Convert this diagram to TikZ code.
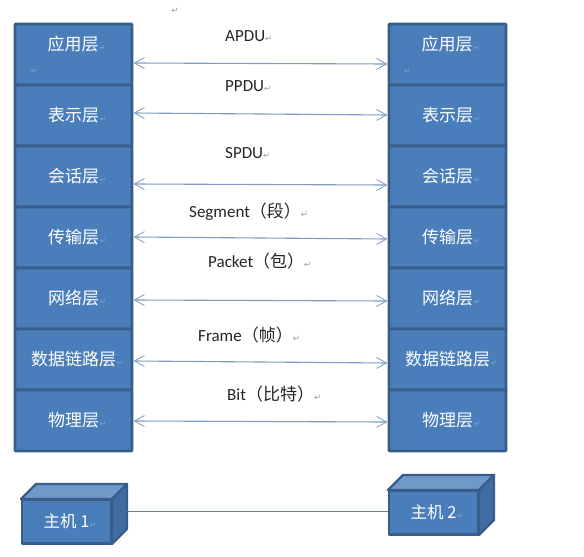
\documentclass[tikz,border=0pt]{standalone}
\usepackage{fontspec}
\setmainfont{Carlito}
\newfontfamily\cjkf{Noto Sans CJK SC}
\newfontfamily\markf{DejaVu Sans}
\usetikzlibrary{arrows.meta}
\definecolor{boxfill}{HTML}{4A7EBB}
\definecolor{boxline}{HTML}{385D8A}
\definecolor{topfill}{HTML}{7098C8}
\definecolor{sidefill}{HTML}{3F6DA3}
\definecolor{arrowc}{HTML}{7E9CC2}
\definecolor{linkc}{HTML}{5F7F98}
\definecolor{inkc}{HTML}{262626}
\newcommand{\retmark}{{\markf\fontsize{8.5}{9}\selectfont\textcolor{gray!80}{↵}}}
\newcommand{\boxmark}{\rlap{\hspace{1pt}\markf\fontsize{7}{8}\selectfont\textcolor{white!35!boxfill}{↵}}}
\tikzset{
  layerbox/.style={draw=boxline,fill=boxfill,line width=2.6pt,rounded corners=0.6pt,minimum width=117pt,minimum height=61pt,inner sep=0pt,text=white,font=\cjkf\fontsize{17}{18}\selectfont},
  pduarrow/.style={draw=arrowc,line width=1.1pt,{Straight Barb[length=10pt,width=11pt,line width=0.8pt]}-{Straight Barb[length=10pt,width=11pt,line width=0.8pt]}},
  pdulabel/.style={inner sep=0pt,text=inkc,font=\fontsize{17}{18}\selectfont},
  frontface/.style={draw=boxline,fill=boxfill,line width=2.4pt,line join=round,inner sep=0pt,text=white,font=\cjkf\fontsize{16.5}{18}\selectfont},
  topface/.style={draw=boxline,fill=topfill,line width=2.4pt,line join=round},
  sideface/.style={draw=boxline,fill=sidefill,line width=2.4pt,line join=round},
  linkline/.style={draw=linkc,line width=1pt},
  stray/.style={inner sep=0pt},
  toptext/.style={inner sep=0pt,text=white,font=\cjkf\fontsize{17}{18}\selectfont}
}
\begin{document}
\begin{tikzpicture}[x=1pt,y=-1pt]
\useasboundingbox[fill=white] (0,0) rectangle (584,557);
\node[stray] (m0) at (175,11) {\retmark};
% left stack
\node[layerbox] (L1) at (73.5,54.5) {};
\node[layerbox] (L2) at (73.5,115.5) {表示层\boxmark};
\node[layerbox] (L3) at (73.5,176.5) {会话层\boxmark};
\node[layerbox] (L4) at (73.5,237.5) {传输层\boxmark};
\node[layerbox] (L5) at (73.5,298.5) {网络层\boxmark};
\node[layerbox] (L6) at (73.5,359.5) {数据链路层\boxmark};
\node[layerbox] (L7) at (73.5,420.5) {物理层\boxmark};
\node[toptext] (LT) at (73,44) {应用层\boxmark};
\node[stray] (m1) at (30,71) {\boxmark};
% right stack
\node[layerbox] (R1) at (447.5,54.5) {};
\node[layerbox] (R2) at (447.5,115.5) {表示层\boxmark};
\node[layerbox] (R3) at (447.5,176.5) {会话层\boxmark};
\node[layerbox] (R4) at (447.5,237.5) {传输层\boxmark};
\node[layerbox] (R5) at (447.5,298.5) {网络层\boxmark};
\node[layerbox] (R6) at (447.5,359.5) {数据链路层\boxmark};
\node[layerbox] (R7) at (447.5,420.5) {物理层\boxmark};
\node[toptext] (RT) at (447,44) {应用层\boxmark};
\node[stray] (m2) at (403,71) {\boxmark};
% arrows
\draw[pduarrow] ([xshift=0.3pt,yshift=-8.5pt]L1.east) -- ([xshift=-0.3pt,yshift=-9.5pt]R1.west);
\draw[pduarrow] ([xshift=0.3pt,yshift=2.5pt]L2.east) -- ([xshift=-0.3pt,yshift=0.5pt]R2.west);
\draw[pduarrow] ([xshift=0.3pt,yshift=-7.5pt]L3.east) -- ([xshift=-0.3pt,yshift=-8.5pt]R3.west);
\draw[pduarrow] ([xshift=0.3pt,yshift=0.5pt]L4.east) -- ([xshift=-0.3pt,yshift=-1.5pt]R4.west);
\draw[pduarrow] ([xshift=0.3pt,yshift=-1.5pt]L5.east) -- ([xshift=-0.3pt,yshift=-2.5pt]R5.west);
\draw[pduarrow] ([xshift=0.3pt,yshift=-1.5pt]L6.east) -- ([xshift=-0.3pt,yshift=-3.5pt]R6.west);
\draw[pduarrow] ([xshift=0.3pt,yshift=-0.5pt]L7.east) -- ([xshift=-0.3pt,yshift=-1.5pt]R7.west);
% labels
\node[pdulabel,anchor=west] (p1) at (225,36) {APDU\retmark};
\node[pdulabel,anchor=west] (p2) at (225,86) {PPDU\retmark};
\node[pdulabel,anchor=west] (p3) at (225,153.5) {SPDU\retmark};
\node[pdulabel,anchor=west] (p4) at (189,212) {Segment{\cjkf（段）}\retmark};
\node[pdulabel,anchor=west] (p5) at (208,261) {Packet{\cjkf（包）}\retmark};
\node[pdulabel,anchor=west] (p6) at (198,335) {Frame{\cjkf（帧）}\retmark};
\node[pdulabel,anchor=west] (p7) at (227,394) {Bit{\cjkf（比特）}\retmark};
% hosts
\fill[topface] (21,499) -- (36,484) -- (127,484) -- (112,499) -- cycle;
\fill[sideface] (112,499) -- (127,484) -- (127,529) -- (112,544) -- cycle;
\node[frontface,minimum width=89.6pt,minimum height=43.6pt] (H1) at (66.5,521.5) {主机 1\boxmark};
\fill[topface] (388,490) -- (403,475) -- (494,475) -- (479,490) -- cycle;
\fill[sideface] (479,490) -- (494,475) -- (494,520) -- (479,535) -- cycle;
\node[frontface,minimum width=89.6pt,minimum height=43.6pt] (H2) at (433.5,512.5) {主机 2\boxmark};
\coordinate (H1side) at (127,511);
\draw[linkline] (H1side) -- (H1side -| H2.west);
\end{tikzpicture}
\end{document}
